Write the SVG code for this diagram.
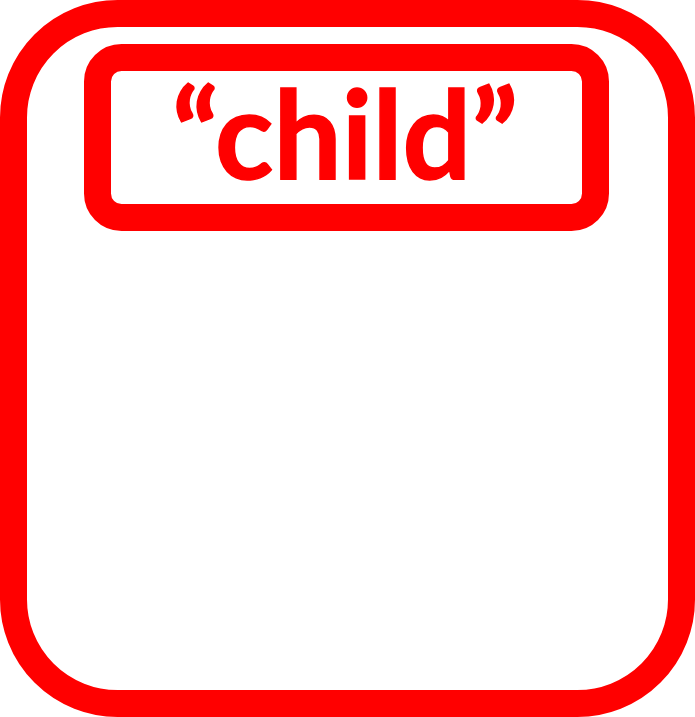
<svg xmlns="http://www.w3.org/2000/svg" width="695" height="717" viewBox="0 0 695 717">
<style>
.box{fill:none;stroke:#ff0000;stroke-width:27}
.lbl{font-family:Lato,"Open Sans","Liberation Sans",sans-serif;font-weight:bold;fill:#ff0000;font-size:122px;stroke:#ff0000;stroke-width:1.5}
</style>
<rect width="695" height="717" fill="#ffffff"/>
<g id="outer">
<rect class="box" x="13.5" y="13.5" width="668" height="690" rx="104" ry="104"/>
</g>
<g id="child">
<rect class="box" x="97.5" y="57.5" width="498" height="160" rx="24" ry="24"/>
<text class="lbl" x="172" y="179" textLength="346" lengthAdjust="spacingAndGlyphs">“child”</text>
</g>
<g id="connectors"/>
</svg>
